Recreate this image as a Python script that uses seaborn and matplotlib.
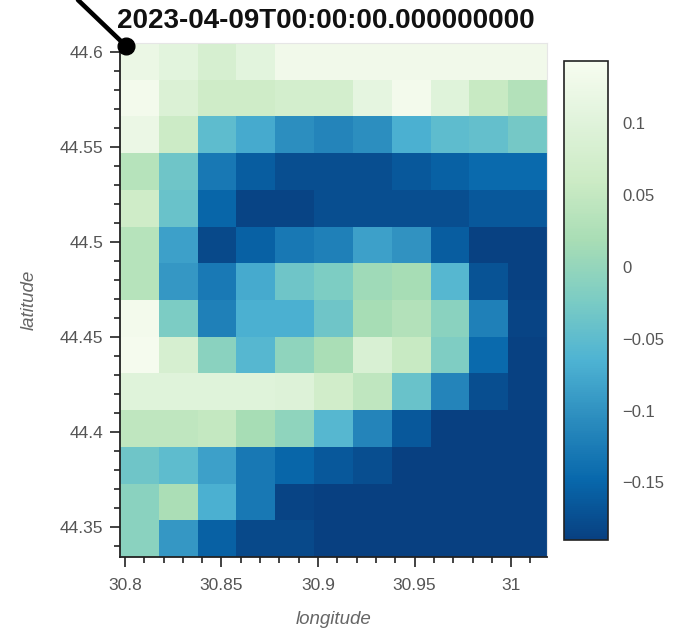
import numpy as np
import pandas as pd
import seaborn as sns
import matplotlib.pyplot as plt
from matplotlib.lines import Line2D

# Grid coordinates (cell centres)
lon = [30.8075, 30.8276, 30.8478, 30.8679, 30.8881, 30.9082,
       30.9284, 30.9485, 30.9687, 30.9888, 31.0090]
lat = [44.5950, 44.5757, 44.5564, 44.5371, 44.5177, 44.4984, 44.4791,
       44.4598, 44.4405, 44.4211, 44.4018, 44.3825, 44.3632, 44.3439]

# Field values, one list per latitude row (north to south)
anomaly = [
    [0.120, 0.105, 0.080, 0.105, 0.130, 0.130, 0.130, 0.130, 0.130, 0.130, 0.130],
    [0.135, 0.090, 0.065, 0.065, 0.075, 0.075, 0.110, 0.135, 0.100, 0.055, 0.030],
    [0.120, 0.060, -0.050, -0.075, -0.105, -0.115, -0.105, -0.068, -0.050, -0.045, -0.030],
    [0.035, -0.035, -0.130, -0.160, -0.175, -0.175, -0.175, -0.165, -0.155, -0.145, -0.145],
    [0.065, -0.040, -0.150, -0.185, -0.185, -0.175, -0.175, -0.175, -0.175, -0.165, -0.165],
    [0.035, -0.085, -0.180, -0.155, -0.130, -0.120, -0.085, -0.100, -0.160, -0.188, -0.188],
    [0.035, -0.095, -0.128, -0.075, -0.035, -0.022, 0.010, 0.018, -0.058, -0.170, -0.188],
    [0.135, -0.023, -0.120, -0.068, -0.068, -0.035, 0.018, 0.030, -0.010, -0.120, -0.185],
    [0.138, 0.080, -0.010, -0.058, -0.005, 0.020, 0.085, 0.055, -0.020, -0.145, -0.188],
    [0.100, 0.100, 0.100, 0.100, 0.095, 0.070, 0.045, -0.040, -0.115, -0.175, -0.188],
    [0.045, 0.045, 0.050, 0.018, -0.005, -0.058, -0.115, -0.165, -0.190, -0.190, -0.190],
    [-0.035, -0.050, -0.085, -0.130, -0.150, -0.165, -0.175, -0.190, -0.190, -0.190, -0.190],
    [-0.010, 0.022, -0.068, -0.130, -0.185, -0.190, -0.190, -0.190, -0.190, -0.190, -0.190],
    [-0.010, -0.095, -0.155, -0.180, -0.180, -0.190, -0.190, -0.190, -0.190, -0.190, -0.190],
]

title = "2023-04-09T00:00:00.000000000"
x_major = [30.8, 30.85, 30.9, 30.95, 31.0]
x_major_labels = ["30.8", "30.85", "30.9", "30.95", "31"]
y_major = [44.35, 44.4, 44.45, 44.5, 44.55, 44.6]
y_major_labels = ["44.35", "44.4", "44.45", "44.5", "44.55", "44.6"]
x_minor = [30.80, 30.81, 30.82, 30.83, 30.84, 30.85, 30.86, 30.87, 30.88, 30.89,
           30.90, 30.91, 30.92, 30.93, 30.94, 30.95, 30.96, 30.97, 30.98, 30.99,
           31.00, 31.01]
y_minor = [44.34, 44.35, 44.36, 44.37, 44.38, 44.39, 44.40, 44.41, 44.42, 44.43,
           44.44, 44.45, 44.46, 44.47, 44.48, 44.49, 44.50, 44.51, 44.52, 44.53,
           44.54, 44.55, 44.56, 44.57, 44.58, 44.59, 44.60]
cbar_ticks = [0.1, 0.05, 0.0, -0.05, -0.1, -0.15]
cbar_labels = ["0.1", "0.05", "0", "\u22120.05", "\u22120.1", "\u22120.15"]
vmin, vmax = -0.19, 0.143

sns.set_style("white")
plt.rcParams["font.family"] = ["Liberation Sans", "DejaVu Sans"]

W, H = 692, 630
fig = plt.figure(figsize=(W / 100, H / 100), dpi=100)
ax = fig.add_axes([120 / W, 73 / H, 427 / W, 514 / H])
cax = fig.add_axes([564 / W, 90 / H, 44 / W, 479 / H])

df = pd.DataFrame(anomaly, index=lat, columns=lon)
cmap = sns.color_palette("GnBu_r", as_cmap=True)
sns.heatmap(df, ax=ax, cbar_ax=cax, cmap=cmap, vmin=vmin, vmax=vmax,
            xticklabels=False, yticklabels=False)

# Map geographic coordinates onto the heatmap's cell index space
dlon = lon[1] - lon[0]
lon_edge = lon[0] - dlon / 2
dlat = lat[0] - lat[1]
lat_edge = lat[0] + dlat / 2


def xpos(v):
    return (v - lon_edge) / dlon


def ypos(v):
    return (lat_edge - v) / dlat


ax.set_xticks([xpos(v) for v in x_major])
ax.set_xticklabels(x_major_labels)
ax.set_xticks([xpos(v) for v in x_minor], minor=True)
ax.set_yticks([ypos(v) for v in y_major])
ax.set_yticklabels(y_major_labels, rotation=0)
ax.set_yticks([ypos(v) for v in y_minor], minor=True)
ax.set_xlim(0, len(lon))
ax.set_ylim(len(lat), 0)

for side in ["left", "bottom"]:
    ax.spines[side].set_visible(True)
    ax.spines[side].set_color("#222222")
    ax.spines[side].set_linewidth(1.3)
for side in ["top", "right"]:
    ax.spines[side].set_visible(True)
    ax.spines[side].set_color("#e6e6e6")
    ax.spines[side].set_linewidth(0.8)

ax.tick_params(which="both", bottom=True, left=True, direction="out",
               color="#222222", width=1.2)
ax.tick_params(axis="y", which="major", length=7, labelsize=12.5,
               labelcolor="#555555", pad=5)
ax.tick_params(axis="x", which="major", length=7, labelsize=12.5,
               labelcolor="#555555", pad=8)
ax.tick_params(which="minor", length=4)

ax.set_xlabel("longitude", fontsize=13.5, color="#666666", style="italic", labelpad=13)
ax.set_ylabel("latitude", fontsize=13.5, color="#666666", style="italic", labelpad=16)

cbar = ax.collections[0].colorbar
cbar.outline.set_visible(True)
cbar.outline.set_linewidth(1.2)
cbar.outline.set_edgecolor("#222222")
cbar.set_ticks(cbar_ticks)
cbar.set_ticklabels(cbar_labels)
cax.tick_params(direction="in", length=6, width=1.4, color="#2d4a2d",
                labelsize=12, labelcolor="#555555", pad=10)

fig.text(326 / W, 1 - 21 / H, title, ha="center", va="center",
         fontsize=20, fontweight="bold", color="#111111")

# Pointer line with a round end marking the grid corner
fig.add_artist(Line2D([78 / W, 126 / W], [1.0, 1 - 46 / H], transform=fig.transFigure,
                      color="black", linewidth=3.3, solid_capstyle="round"))
fig.add_artist(Line2D([126 / W], [1 - 46 / H], transform=fig.transFigure,
                      marker="o", markersize=12, color="black"))

fig.savefig("out.png", dpi=100)
